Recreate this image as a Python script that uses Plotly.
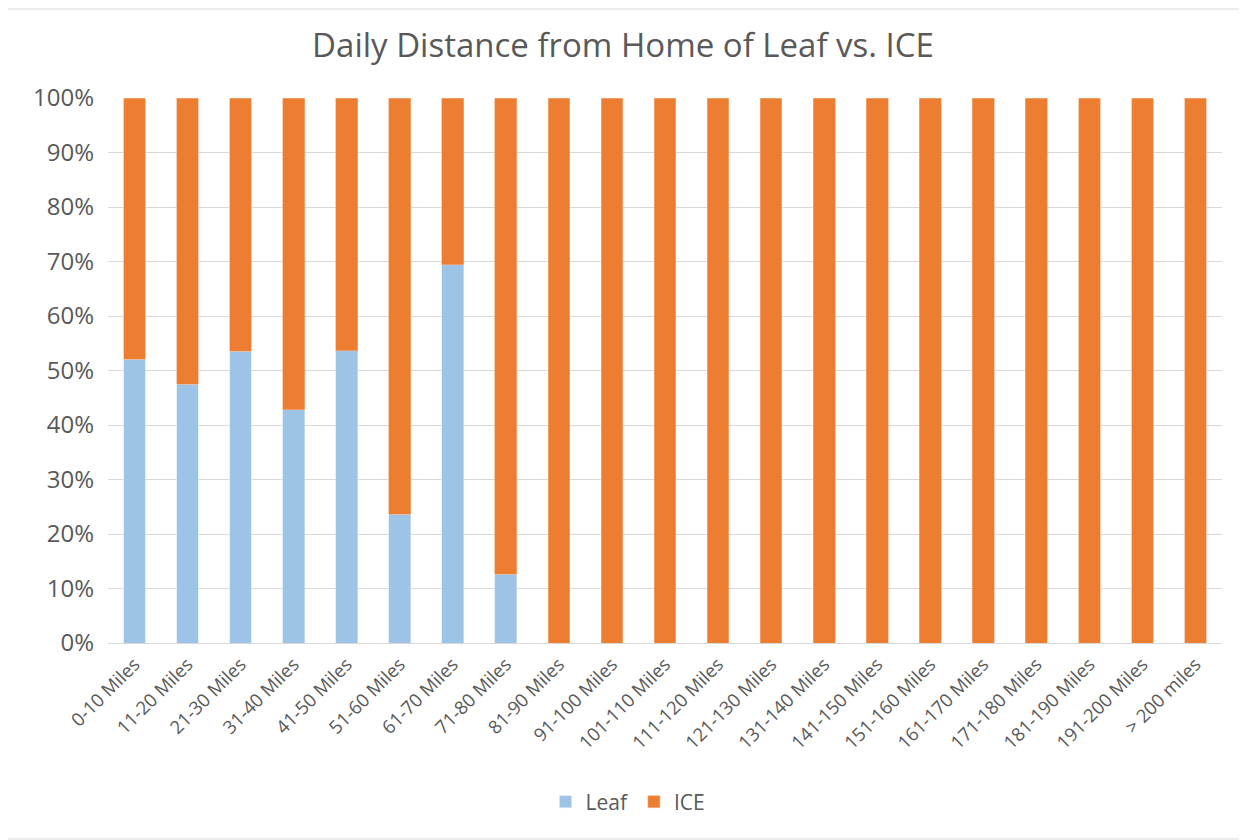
import plotly.graph_objects as go

categories = ["0-10 Miles", "11-20 Miles", "21-30 Miles", "31-40 Miles", "41-50 Miles",
              "51-60 Miles", "61-70 Miles", "71-80 Miles", "81-90 Miles", "91-100 Miles",
              "101-110 Miles", "111-120 Miles", "121-130 Miles", "131-140 Miles",
              "141-150 Miles", "151-160 Miles", "161-170 Miles", "171-180 Miles",
              "181-190 Miles", "191-200 Miles", "> 200 miles"]
leaf = [52.1, 47.5, 53.5, 42.8, 53.6, 23.6, 69.4, 12.6] + [0.0] * 13
ice = [100.0 - v for v in leaf]
y_ticks = [0, 10, 20, 30, 40, 50, 60, 70, 80, 90, 100]
y_labels = [f"{v}%" for v in y_ticks]

FONT = "Open Sans"
GRAY = "#595959"

fig = go.Figure()
fig.add_trace(go.Bar(name="Leaf", x=categories, y=leaf, marker=dict(color="#9DC3E6", line=dict(color="#D6E6F5", width=0.6))))
fig.add_trace(go.Bar(name="ICE", x=categories, y=ice, marker=dict(color="#ED7D31", line=dict(color="#F4B183", width=0.6))))

OFF = 8  # page body margin
W, H = 1247 - OFF, 840 - OFF
L, R, T, B = 108 - OFF, 25, 98 - OFF, 840 - 643
pw, ph = W - L - R, H - T - B

fig.update_layout(
    width=W, height=H,
    barmode="stack", bargap=0.59,
    paper_bgcolor="white", plot_bgcolor="white",
    margin=dict(l=L, r=R, t=T, b=B),
    title=dict(text="Daily Distance from Home of Leaf vs. ICE", x=(623 - OFF) / W, xanchor="center",
               y=1 - (45 - OFF) / H, yanchor="middle",
               font=dict(family=FONT, size=33, color=GRAY)),
    font=dict(family=FONT, color=GRAY),
    xaxis=dict(tickangle=-45, tickfont=dict(size=18.5, color=GRAY), showgrid=False,
               showline=False, ticks="", automargin=False, ticklabelstandoff=6),
    yaxis=dict(range=[0, 100], tickvals=y_ticks, ticktext=y_labels,
               tickfont=dict(size=24, color=GRAY), gridcolor="#D9D9D9", gridwidth=1,
               zeroline=True, zerolinecolor="#D9D9D9", zerolinewidth=1,
               showline=False, ticks="", ticklen=0, automargin=False,
               ticklabelstandoff=13),
    legend=dict(orientation="h", x=(628 - L - OFF) / pw, xanchor="center", y=-(802 - 643) / ph,
                yanchor="middle", font=dict(size=21, color=GRAY), traceorder="normal",
                itemwidth=30),
    shapes=[dict(type="rect", xref="paper", yref="paper",
                 x0=(2 - OFF - L) / pw, x1=(W - 1 - L) / pw,
                 y0=-(H - 1 - T - ph) / ph, y1=1 + (T - 1) / ph,
                 line=dict(color="#D9D9D9", width=1), layer="below")],
)

fig.write_html("out.html")
